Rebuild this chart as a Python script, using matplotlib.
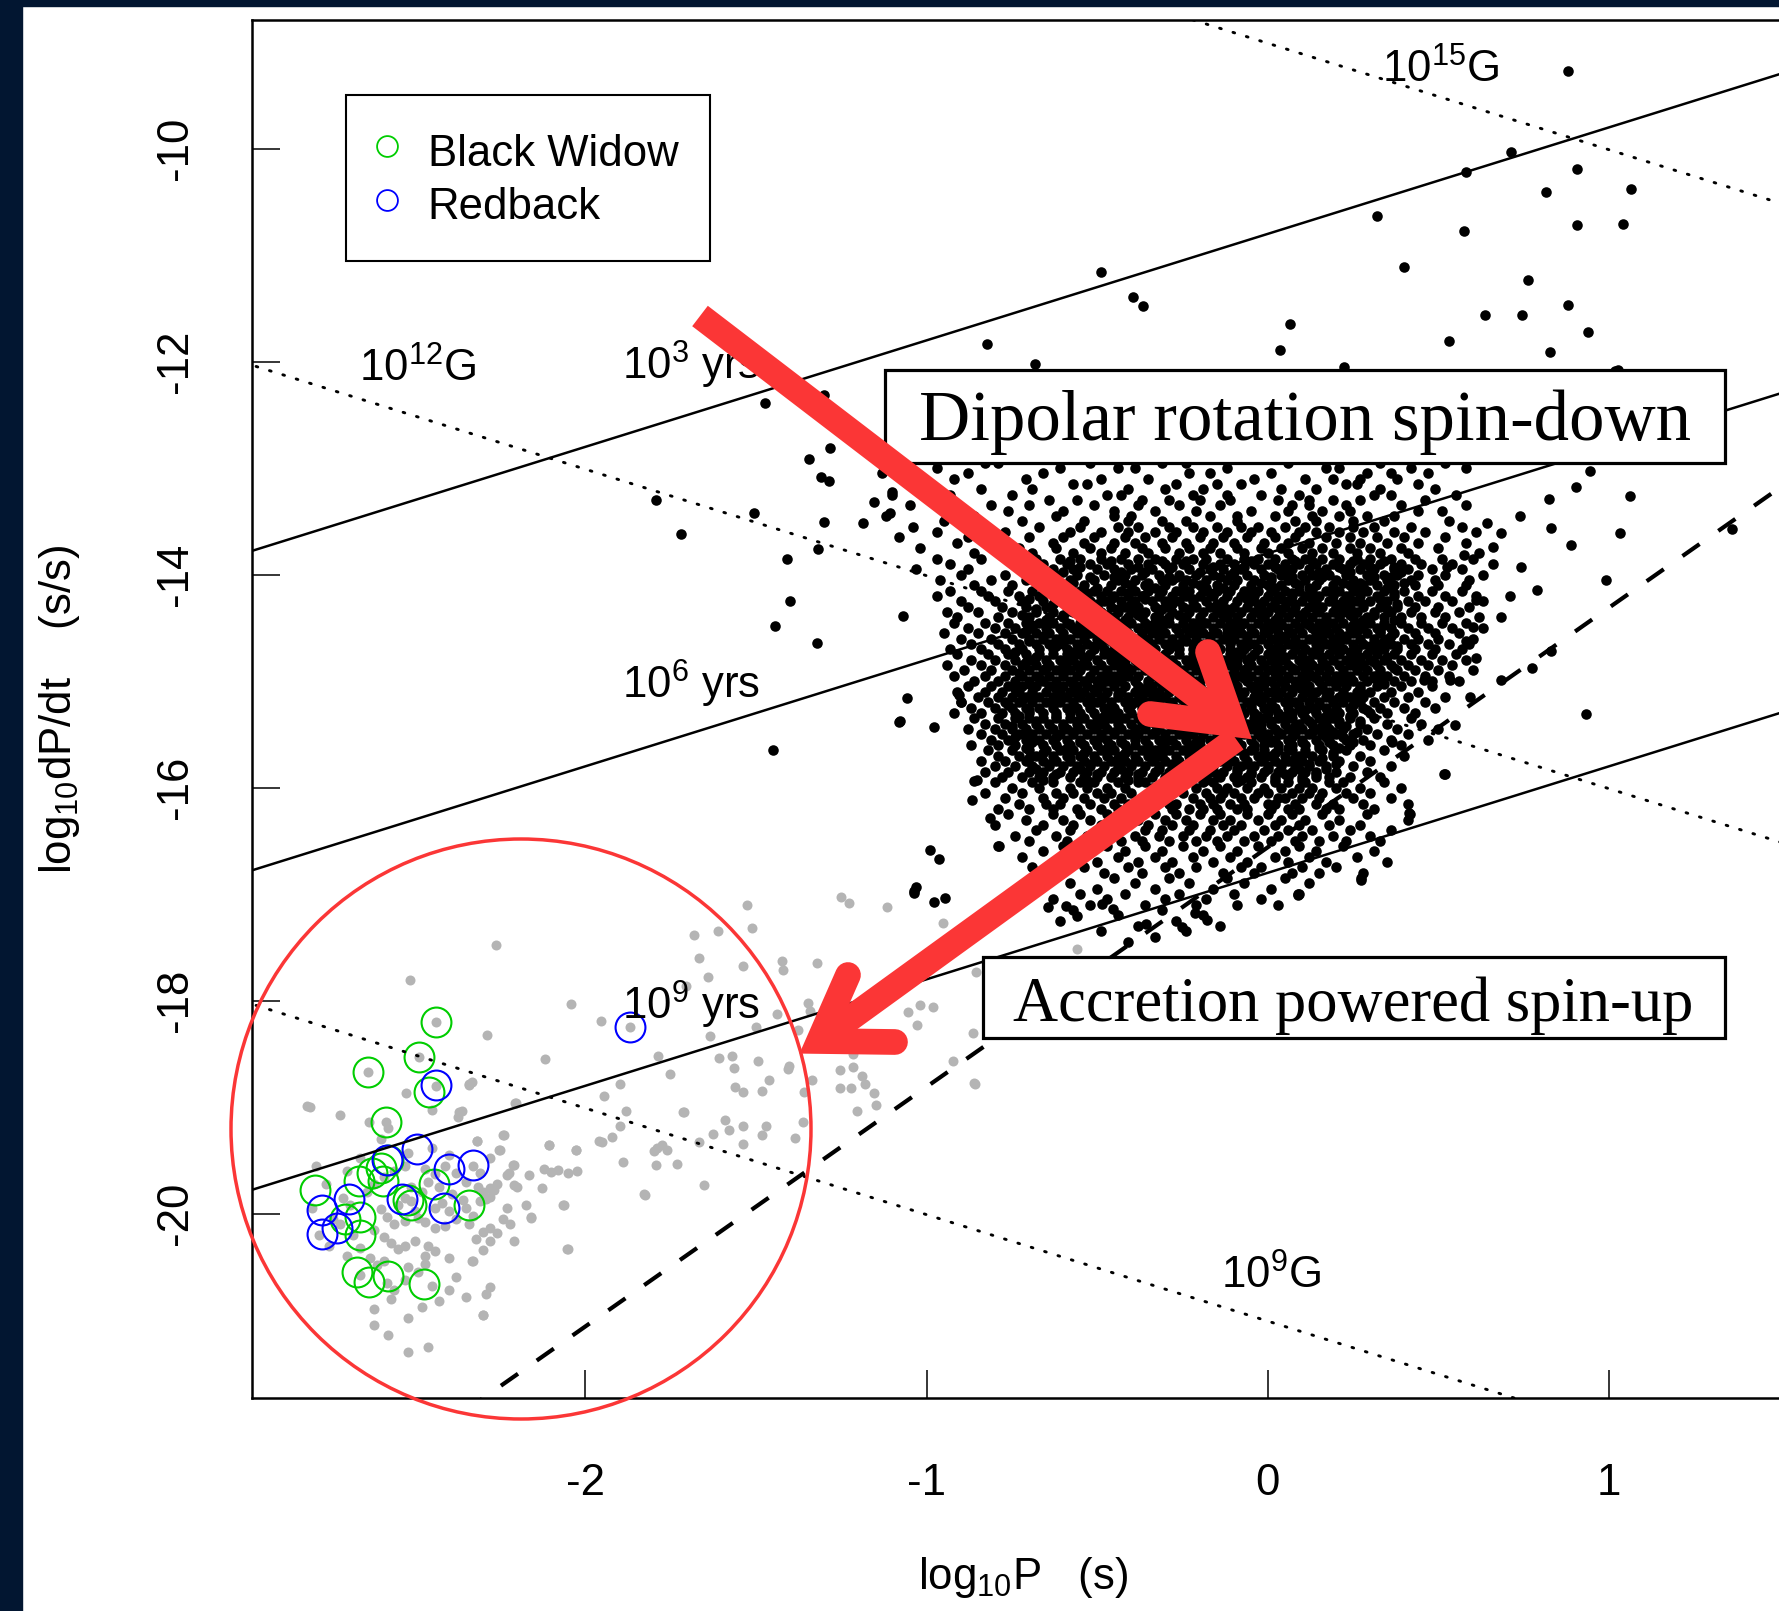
import numpy as np
import matplotlib
matplotlib.use("Agg")
import matplotlib.pyplot as plt
from matplotlib.lines import Line2D
from matplotlib.patches import Rectangle, Ellipse

plt.rcParams['font.family'] = ['Liberation Sans', 'DejaVu Sans']
plt.rcParams['mathtext.fontset'] = 'custom'
plt.rcParams['mathtext.rm'] = 'Liberation Sans'
plt.rcParams['mathtext.it'] = 'Liberation Sans:italic'
plt.rcParams['mathtext.bf'] = 'Liberation Sans:bold'
plt.rcParams['axes.unicode_minus'] = False

# ------------------------------------------------------------------ data
# sparse normal pulsars (log10 P, log10 Pdot)
normal_sparse = [
    (0.879, -9.27), (0.712, -10.03), (0.582, -10.22), (0.905, -10.19), (0.815, -10.41), (1.065, -10.38),
    (0.319, -10.63), (0.576, -10.77), (0.905, -10.72), (1.042, -10.71), (0.400, -11.11), (0.762, -11.23),
    (-0.489, -11.16), (-0.396, -11.39), (-0.365, -11.48), (0.635, -11.56), (0.744, -11.56), (0.881, -11.47),
    (0.066, -11.65), (0.530, -11.81), (0.937, -11.72), (0.828, -11.91), (-0.822, -11.83), (0.037, -11.89),
    (-0.681, -12.02), (0.222, -12.05), (1.025, -12.08), (1.018, -12.09),
    (-1.475, -12.39), (-1.300, -12.31), (-1.346, -12.91), (-1.282, -12.81), (-1.310, -13.08), (-1.285, -13.12),
    (-1.300, -13.51), (-1.317, -13.76), (-1.410, -13.85), (-1.400, -14.25), (-1.443, -14.48), (-1.320, -14.64),
    (-1.792, -13.30), (-1.505, -13.42), (-1.451, -15.65), (-1.078, -15.37), (-1.187, -13.52), (-1.154, -13.32),
    (-1.108, -13.42), (-1.102, -13.22), (-1.069, -14.39), (-1.056, -15.16), (-1.082, -15.38), (-0.977, -15.43),
    (-0.899, -15.20), (-0.905, -15.13), (-0.853, -15.93), (-0.866, -16.12), (-0.990, -16.59), (-0.964, -16.67),
    (-1.036, -16.97), (-0.977, -17.07), (-0.945, -17.04), (-1.037, -16.99), (-0.862, -15.94), (-1.032, -16.93),
    (-0.788, -16.55), (-0.814, -16.29), (-0.644, -17.12), (-0.591, -17.11), (-0.559, -17.21), (-0.487, -17.09),
    (-0.454, -17.14), (-0.356, -17.28), (-0.251, -17.31), (-0.179, -17.24), (-0.212, -17.18), (0.089, -17.01),
    (0.272, -16.87), (0.416, -16.25), (0.520, -15.87), (0.534, -14.99), (0.600, -14.49), (1.361, -13.57),
    (0.902, -13.18), (1.062, -13.26), (0.825, -13.29), (0.739, -13.45), (0.642, -13.52), (0.888, -13.72),
    (0.829, -13.56), (0.682, -13.61), (0.576, -13.82), (0.742, -13.93), (0.789, -14.14), (0.609, -14.24),
    (0.682, -14.40), (0.526, -13.93), (0.829, -14.72), (0.609, -14.78), (0.459, -14.99), (0.932, -15.31),
    (0.516, -15.87), (0.413, -16.24), (0.549, -15.41), (0.363, -15.57), (0.273, -16.85), (0.087, -17.00),
    (0.775, -14.88), (0.682, -14.99), (0.592, -15.15), (0.945, -13.03), (1.032, -13.61), (0.990, -14.05),
    (-1.721, -13.62), (-1.230, -12.60), (0.71, -14.20), (0.66, -13.74), (0.58, -14.62), (0.50, -15.45),
]

# dense normal pulsar cloud, read row by row: (log10 Pdot, [log10 P ...])
core_upper = [
    (-12.95, [-1.08, -0.83, -0.79, -0.52, -0.31, -0.24, 0.06, 0.33, 0.52]),
    (-13.00, [-0.97, -0.61, -0.44, -0.39, -0.12, 0.17, 0.21, 0.42, 0.58]),
    (-13.05, [-1.13, -0.88, -0.66, -0.23, -0.17, 0.01, 0.29, 0.47, 0.36]),
    (-13.10, [-0.92, -0.71, -0.49, -0.35, -0.04, 0.11, 0.38, 0.27, 0.19]),
    (-13.15, [-1.01, -0.57, -0.53, -0.27, -0.08, 0.23, 0.26, 0.44, -0.15]),
    (-13.20, [-0.84, -0.69, -0.41, -0.19, 0.04, 0.14, 0.33, 0.49, -0.30]),
    (-13.25, [-1.10, -0.93, -0.75, -0.47, -0.43, -0.22, -0.02, 0.09, 0.31, 0.36, 0.55, -0.12]),
    (-13.30, [-0.99, -0.64, -0.56, -0.37, -0.29, -0.11, 0.03, 0.19, 0.27, 0.46, -0.20, 0.12]),
    (-13.35, [-1.05, -0.81, -0.70, -0.51, -0.26, -0.14, 0.07, 0.12, 0.39, 0.58, 0.23, -0.38]),
    (-13.40, [-0.89, -0.76, -0.60, -0.33, -0.21, -0.05, 0.16, 0.24, 0.44, 0.51, 0.06, -0.45]),
    (-13.45, [-1.12, -0.86, -0.62, -0.45, -0.40, -0.17, 0.02, 0.21, 0.29, 0.37, -0.09, 0.13]),
    (-13.50, [-0.95, -0.72, -0.54, -0.31, -0.24, -0.09, 0.08, 0.14, 0.34, 0.53, -0.41, 0.25]),
    (-13.55, [-1.04, -0.84, -0.67, -0.55, -0.44, -0.38, -0.29, -0.22, -0.15, -0.08, -0.03, 0.05, 0.11, 0.18, 0.25, 0.31, 0.42, 0.57]),
    (-13.60, [-0.97, -0.77, -0.58, -0.49, -0.41, -0.33, -0.27, -0.19, -0.12, -0.05, 0.01, 0.09, 0.14, 0.21, 0.28, 0.37, 0.46, 0.61]),
    (-13.65, [-1.08, -0.88, -0.70, -0.60, -0.51, -0.42, -0.36, -0.28, -0.20, -0.13, -0.06, 0.02, 0.08, 0.17, 0.24, 0.32, 0.40, 0.52]),
    (-13.70, [-0.91, -0.80, -0.63, -0.54, -0.45, -0.39, -0.31, -0.24, -0.16, -0.10, -0.01, 0.06, 0.12, 0.20, 0.27, 0.35, 0.44, 0.58]),
    (-13.75, [-1.02, -0.73, -0.62, -0.52, -0.46, -0.37, -0.30, -0.23, -0.17, -0.09, -0.02, 0.04, 0.10, 0.16, 0.24, 0.30, 0.39, 0.50]),
    (-13.80, [-0.86, -0.69, -0.57, -0.49, -0.42, -0.35, -0.26, -0.19, -0.14, -0.07, 0.00, 0.06, 0.13, 0.19, 0.26, 0.33, 0.41, 0.62]),
    (-13.85, [-0.97, -0.84, -0.68, -0.61, -0.55, -0.49, -0.43, -0.38, -0.33, -0.27, -0.22, -0.18, -0.12, -0.07, -0.03, 0.02, 0.07, 0.11, 0.16, 0.21, 0.26, 0.30, 0.36, 0.43, 0.51, 0.60]),
    (-13.90, [-0.93, -0.74, -0.66, -0.59, -0.52, -0.47, -0.41, -0.35, -0.30, -0.25, -0.19, -0.14, -0.10, -0.04, 0.00, 0.05, 0.09, 0.14, 0.19, 0.24, 0.28, 0.33, 0.39, 0.45, 0.54, 0.66]),
    (-13.95, [-1.03, -0.88, -0.72, -0.63, -0.57, -0.50, -0.45, -0.40, -0.34, -0.29, -0.23, -0.17, -0.13, -0.08, -0.02, 0.03, 0.07, 0.12, 0.17, 0.22, 0.27, 0.31, 0.37, 0.41, 0.48, 0.57]),
    (-14.00, [-0.90, -0.77, -0.70, -0.62, -0.56, -0.48, -0.42, -0.37, -0.32, -0.26, -0.21, -0.16, -0.11, -0.06, -0.01, 0.04, 0.10, 0.13, 0.18, 0.23, 0.29, 0.34, 0.38, 0.44, 0.52, 0.63]),
    (-14.05, [-0.96, -0.81, -0.71, -0.64, -0.58, -0.51, -0.44, -0.39, -0.31, -0.28, -0.24, -0.18, -0.12, -0.09, -0.04, 0.01, 0.06, 0.11, 0.15, 0.20, 0.25, 0.30, 0.35, 0.42, 0.49, 0.59]),
    (-14.10, [-0.86, -0.75, -0.67, -0.60, -0.54, -0.46, -0.40, -0.36, -0.30, -0.25, -0.20, -0.15, -0.10, -0.05, 0.00, 0.04, 0.09, 0.14, 0.19, 0.24, 0.28, 0.32, 0.37, 0.43, 0.50, 0.58]),
]
core_middle = [
    (-14.15, [-0.93, -0.84, -0.76, -0.69, -0.64, -0.60, -0.55, -0.51, -0.47, -0.43, -0.39, -0.35, -0.31, -0.27, -0.23, -0.19, -0.15, -0.11, -0.07, -0.03, 0.01, 0.05, 0.09, 0.13, 0.17, 0.21, 0.25, 0.29, 0.34, 0.40, 0.48, 0.57]),
    (-14.20, [-0.97, -0.82, -0.73, -0.67, -0.62, -0.58, -0.53, -0.49, -0.45, -0.41, -0.37, -0.32, -0.28, -0.24, -0.20, -0.16, -0.12, -0.08, -0.04, 0.00, 0.03, 0.07, 0.11, 0.15, 0.19, 0.23, 0.27, 0.32, 0.37, 0.44, 0.52, 0.61]),
    (-14.25, [-0.90, -0.80, -0.72, -0.66, -0.61, -0.56, -0.52, -0.48, -0.43, -0.39, -0.34, -0.30, -0.26, -0.22, -0.18, -0.13, -0.09, -0.05, -0.01, 0.02, 0.06, 0.10, 0.14, 0.18, 0.22, 0.26, 0.30, 0.35, 0.41, 0.46, 0.54, 0.63]),
    (-14.30, [-0.88, -0.78, -0.71, -0.65, -0.59, -0.55, -0.50, -0.46, -0.42, -0.38, -0.33, -0.29, -0.25, -0.21, -0.17, -0.14, -0.10, -0.06, -0.02, 0.01, 0.05, 0.08, 0.12, 0.16, 0.20, 0.24, 0.28, 0.33, 0.38, 0.43, 0.50, 0.59]),
    (-14.35, [-0.94, -0.85, -0.75, -0.68, -0.63, -0.57, -0.53, -0.49, -0.44, -0.40, -0.36, -0.32, -0.28, -0.23, -0.19, -0.15, -0.11, -0.08, -0.04, 0.00, 0.04, 0.07, 0.11, 0.15, 0.19, 0.22, 0.26, 0.31, 0.36, 0.42, 0.49, 0.56]),
    (-14.40, [-0.91, -0.79, -0.70, -0.64, -0.60, -0.54, -0.50, -0.45, -0.41, -0.37, -0.33, -0.29, -0.24, -0.20, -0.16, -0.12, -0.09, -0.05, -0.01, 0.03, 0.06, 0.10, 0.13, 0.17, 0.21, 0.25, 0.29, 0.34, 0.39, 0.45, 0.52, 0.62]),
    (-14.45, [-0.92, -0.83, -0.76, -0.71, -0.67, -0.63, -0.59, -0.55, -0.51, -0.48, -0.44, -0.40, -0.36, -0.33, -0.29, -0.25, -0.22, -0.18, -0.14, -0.11, -0.07, -0.03, 0.00, 0.04, 0.08, 0.11, 0.15, 0.19, 0.22, 0.26, 0.30, 0.34, 0.39, 0.45, 0.51, 0.58]),
    (-14.50, [-0.88, -0.80, -0.74, -0.69, -0.65, -0.61, -0.57, -0.53, -0.50, -0.46, -0.42, -0.38, -0.35, -0.31, -0.27, -0.24, -0.20, -0.16, -0.12, -0.09, -0.05, -0.01, 0.02, 0.06, 0.09, 0.13, 0.17, 0.20, 0.24, 0.28, 0.32, 0.36, 0.41, 0.47, 0.54, 0.63]),
    (-14.55, [-0.95, -0.85, -0.77, -0.72, -0.68, -0.64, -0.60, -0.56, -0.52, -0.49, -0.45, -0.41, -0.37, -0.34, -0.30, -0.26, -0.23, -0.19, -0.15, -0.12, -0.08, -0.04, -0.01, 0.03, 0.07, 0.10, 0.14, 0.18, 0.21, 0.25, 0.29, 0.33, 0.37, 0.43, 0.49, 0.56]),
    (-14.60, [-0.90, -0.81, -0.75, -0.70, -0.66, -0.62, -0.58, -0.54, -0.50, -0.47, -0.43, -0.39, -0.36, -0.32, -0.28, -0.25, -0.21, -0.17, -0.13, -0.10, -0.06, -0.02, 0.01, 0.05, 0.08, 0.12, 0.16, 0.19, 0.23, 0.27, 0.31, 0.35, 0.40, 0.44, 0.50, 0.60]),
    (-14.65, [-0.87, -0.79, -0.73, -0.68, -0.64, -0.60, -0.56, -0.53, -0.49, -0.45, -0.41, -0.37, -0.34, -0.30, -0.26, -0.22, -0.19, -0.15, -0.11, -0.08, -0.04, 0.00, 0.03, 0.06, 0.10, 0.14, 0.17, 0.21, 0.25, 0.28, 0.32, 0.36, 0.42, 0.47, 0.53, 0.59]),
    (-14.70, [-0.93, -0.84, -0.77, -0.72, -0.67, -0.63, -0.59, -0.55, -0.51, -0.48, -0.44, -0.40, -0.37, -0.33, -0.29, -0.26, -0.22, -0.18, -0.14, -0.11, -0.07, -0.03, 0.01, 0.04, 0.08, 0.11, 0.15, 0.19, 0.22, 0.26, 0.30, 0.34, 0.38, 0.43, 0.49, 0.57]),
    (-14.75, [-0.91, -0.82, -0.76, -0.71, -0.67, -0.63, -0.59, -0.55, -0.52, -0.48, -0.44, -0.41, -0.37, -0.33, -0.30, -0.26, -0.22, -0.19, -0.15, -0.11, -0.08, -0.04, 0.00, 0.03, 0.07, 0.10, 0.14, 0.18, 0.21, 0.25, 0.29, 0.32, 0.37, 0.42, 0.48, 0.55]),
    (-14.80, [-0.87, -0.80, -0.74, -0.69, -0.65, -0.61, -0.57, -0.54, -0.50, -0.46, -0.42, -0.39, -0.35, -0.31, -0.28, -0.24, -0.20, -0.17, -0.13, -0.09, -0.06, -0.02, 0.01, 0.05, 0.09, 0.12, 0.16, 0.19, 0.23, 0.27, 0.30, 0.34, 0.39, 0.45, 0.51, 0.58]),
    (-14.85, [-0.94, -0.84, -0.77, -0.72, -0.68, -0.64, -0.60, -0.56, -0.53, -0.49, -0.45, -0.42, -0.38, -0.34, -0.31, -0.27, -0.23, -0.20, -0.16, -0.12, -0.09, -0.05, -0.01, 0.02, 0.06, 0.10, 0.13, 0.17, 0.21, 0.24, 0.28, 0.32, 0.36, 0.41, 0.47, 0.54]),
    (-14.90, [-0.89, -0.81, -0.75, -0.70, -0.66, -0.62, -0.58, -0.55, -0.51, -0.47, -0.43, -0.40, -0.36, -0.32, -0.29, -0.25, -0.21, -0.18, -0.14, -0.10, -0.07, -0.03, 0.00, 0.04, 0.08, 0.11, 0.15, 0.18, 0.22, 0.26, 0.29, 0.33, 0.38, 0.43, 0.50, 0.60]),
    (-14.95, [-0.92, -0.83, -0.77, -0.72, -0.68, -0.64, -0.60, -0.56, -0.52, -0.49, -0.45, -0.41, -0.38, -0.34, -0.30, -0.27, -0.23, -0.19, -0.16, -0.12, -0.08, -0.05, -0.01, 0.03, 0.06, 0.10, 0.13, 0.17, 0.20, 0.24, 0.28, 0.31, 0.35, 0.40, 0.46, 0.53]),
    (-15.00, [-0.86, -0.79, -0.74, -0.70, -0.66, -0.62, -0.58, -0.54, -0.50, -0.47, -0.43, -0.39, -0.35, -0.32, -0.28, -0.25, -0.21, -0.17, -0.14, -0.10, -0.06, -0.03, 0.01, 0.04, 0.08, 0.11, 0.15, 0.18, 0.22, 0.25, 0.29, 0.33, 0.37, 0.42, 0.48, 0.56]),
]
core_lower = [
    (-15.05, [-0.88, -0.81, -0.76, -0.72, -0.68, -0.64, -0.60, -0.56, -0.53, -0.49, -0.45, -0.42, -0.38, -0.34, -0.31, -0.27, -0.24, -0.20, -0.16, -0.13, -0.09, -0.05, -0.02, 0.02, 0.05, 0.09, 0.12, 0.16, 0.20, 0.23, 0.27, 0.32, 0.39, 0.48]),
    (-15.10, [-0.91, -0.83, -0.78, -0.73, -0.69, -0.65, -0.61, -0.58, -0.54, -0.50, -0.47, -0.43, -0.39, -0.36, -0.32, -0.29, -0.25, -0.21, -0.18, -0.14, -0.10, -0.07, -0.03, 0.00, 0.04, 0.07, 0.11, 0.14, 0.18, 0.22, 0.26, 0.30, 0.36, 0.44]),
    (-15.15, [-0.85, -0.79, -0.75, -0.71, -0.67, -0.63, -0.59, -0.55, -0.52, -0.48, -0.44, -0.41, -0.37, -0.33, -0.30, -0.26, -0.22, -0.19, -0.15, -0.12, -0.08, -0.04, -0.01, 0.03, 0.06, 0.10, 0.13, 0.17, 0.21, 0.24, 0.28, 0.34, 0.41, 0.52]),
    (-15.20, [-0.90, -0.82, -0.77, -0.73, -0.69, -0.65, -0.61, -0.57, -0.53, -0.50, -0.46, -0.42, -0.39, -0.35, -0.32, -0.28, -0.24, -0.21, -0.17, -0.13, -0.10, -0.06, -0.02, 0.01, 0.05, 0.08, 0.12, 0.15, 0.19, 0.22, 0.27, 0.31, 0.37, 0.46]),
    (-15.25, [-0.87, -0.80, -0.75, -0.71, -0.67, -0.63, -0.59, -0.56, -0.52, -0.48, -0.45, -0.41, -0.37, -0.34, -0.30, -0.27, -0.23, -0.19, -0.16, -0.12, -0.08, -0.05, -0.01, 0.02, 0.06, 0.09, 0.13, 0.17, 0.20, 0.24, 0.28, 0.33, 0.40, 0.49]),
    (-15.30, [-0.92, -0.84, -0.78, -0.74, -0.70, -0.66, -0.62, -0.58, -0.55, -0.51, -0.47, -0.44, -0.40, -0.36, -0.33, -0.29, -0.26, -0.22, -0.18, -0.15, -0.11, -0.07, -0.04, 0.00, 0.03, 0.07, 0.10, 0.14, 0.18, 0.21, 0.25, 0.30, 0.35, 0.43]),
    (-15.35, [-0.86, -0.79, -0.74, -0.70, -0.66, -0.62, -0.58, -0.54, -0.50, -0.46, -0.42, -0.38, -0.35, -0.31, -0.27, -0.23, -0.19, -0.16, -0.12, -0.08, -0.04, -0.01, 0.03, 0.07, 0.11, 0.15, 0.19, 0.24, 0.31, 0.42]),
    (-15.40, [-0.83, -0.77, -0.72, -0.68, -0.64, -0.60, -0.56, -0.52, -0.48, -0.44, -0.40, -0.37, -0.33, -0.29, -0.25, -0.21, -0.18, -0.14, -0.10, -0.06, -0.02, 0.01, 0.05, 0.09, 0.13, 0.17, 0.21, 0.27, 0.35, 0.45]),
    (-15.45, [-0.88, -0.80, -0.75, -0.71, -0.67, -0.63, -0.59, -0.55, -0.51, -0.47, -0.43, -0.39, -0.36, -0.32, -0.28, -0.24, -0.20, -0.17, -0.13, -0.09, -0.05, -0.02, 0.02, 0.06, 0.10, 0.14, 0.18, 0.22, 0.29, 0.38]),
    (-15.50, [-0.84, -0.78, -0.73, -0.69, -0.65, -0.61, -0.57, -0.53, -0.49, -0.45, -0.41, -0.38, -0.34, -0.30, -0.26, -0.22, -0.19, -0.15, -0.11, -0.07, -0.03, 0.00, 0.04, 0.08, 0.12, 0.16, 0.20, 0.25, 0.32, 0.41]),
    (-15.55, [-0.81, -0.76, -0.71, -0.67, -0.63, -0.59, -0.55, -0.51, -0.47, -0.43, -0.39, -0.36, -0.32, -0.28, -0.24, -0.20, -0.17, -0.13, -0.09, -0.05, -0.01, 0.02, 0.06, 0.10, 0.14, 0.18, 0.23, 0.28, 0.36, 0.47]),
    (-15.60, [-0.87, -0.79, -0.74, -0.70, -0.66, -0.62, -0.58, -0.54, -0.50, -0.46, -0.42, -0.39, -0.35, -0.31, -0.27, -0.23, -0.20, -0.16, -0.12, -0.08, -0.04, -0.01, 0.03, 0.07, 0.11, 0.15, 0.19, 0.24, 0.30, 0.39]),
    (-15.65, [-0.82, -0.75, -0.70, -0.65, -0.61, -0.57, -0.53, -0.49, -0.45, -0.41, -0.37, -0.33, -0.29, -0.25, -0.21, -0.17, -0.13, -0.09, -0.05, -0.01, 0.03, 0.07, 0.11, 0.16, 0.23, 0.34]),
    (-15.70, [-0.79, -0.73, -0.68, -0.63, -0.59, -0.55, -0.51, -0.47, -0.43, -0.39, -0.35, -0.31, -0.27, -0.23, -0.19, -0.15, -0.11, -0.07, -0.03, 0.01, 0.05, 0.09, 0.13, 0.19, 0.27, 0.40]),
    (-15.75, [-0.84, -0.77, -0.71, -0.66, -0.62, -0.58, -0.54, -0.50, -0.46, -0.42, -0.38, -0.34, -0.30, -0.26, -0.22, -0.18, -0.14, -0.10, -0.06, -0.02, 0.02, 0.06, 0.10, 0.15, 0.21, 0.30]),
    (-15.80, [-0.80, -0.74, -0.69, -0.64, -0.60, -0.56, -0.52, -0.48, -0.44, -0.40, -0.36, -0.32, -0.28, -0.24, -0.20, -0.16, -0.12, -0.08, -0.04, 0.00, 0.04, 0.08, 0.12, 0.17, 0.25, 0.36]),
    (-15.85, [-0.83, -0.76, -0.70, -0.66, -0.61, -0.57, -0.53, -0.49, -0.45, -0.41, -0.37, -0.33, -0.29, -0.25, -0.21, -0.17, -0.13, -0.09, -0.05, -0.01, 0.03, 0.07, 0.11, 0.14, 0.20, 0.29]),
    (-15.90, [-0.78, -0.72, -0.67, -0.63, -0.58, -0.54, -0.50, -0.46, -0.42, -0.38, -0.34, -0.30, -0.26, -0.22, -0.18, -0.14, -0.10, -0.06, -0.02, 0.02, 0.06, 0.10, 0.14, 0.18, 0.24, 0.33]),
    (-15.95, [-0.80, -0.69, -0.63, -0.55, -0.51, -0.44, -0.38, -0.36, -0.29, -0.24, -0.19, -0.16, -0.09, -0.05, 0.02, 0.06, 0.11, 0.18, 0.22, 0.34]),
    (-16.00, [-0.75, -0.67, -0.58, -0.53, -0.47, -0.42, -0.34, -0.31, -0.26, -0.21, -0.15, -0.12, -0.06, -0.01, 0.04, 0.09, 0.13, 0.20, 0.27, 0.39]),
    (-16.05, [-0.83, -0.72, -0.62, -0.57, -0.50, -0.46, -0.40, -0.33, -0.28, -0.25, -0.18, -0.13, -0.10, -0.03, 0.00, 0.07, 0.12, 0.16, 0.23, 0.30]),
    (-16.10, [-0.77, -0.66, -0.60, -0.54, -0.48, -0.43, -0.37, -0.32, -0.30, -0.22, -0.17, -0.14, -0.08, -0.04, 0.03, 0.05, 0.10, 0.15, 0.25, 0.36]),
    (-16.15, [-0.73, -0.65, -0.61, -0.52, -0.45, -0.41, -0.35, -0.29, -0.27, -0.20, -0.16, -0.11, -0.07, 0.00, 0.02, 0.08, 0.14, 0.19, 0.28, 0.41]),
    (-16.20, [-0.79, -0.70, -0.63, -0.56, -0.49, -0.44, -0.39, -0.34, -0.28, -0.23, -0.19, -0.15, -0.09, -0.06, 0.01, 0.06, 0.09, 0.17, 0.21, 0.31]),
    (-16.25, [-0.76, -0.63, -0.55, -0.47, -0.41, -0.33, -0.27, -0.20, -0.14, -0.06, 0.00, 0.07, 0.16, 0.29]),
    (-16.30, [-0.71, -0.60, -0.52, -0.44, -0.38, -0.30, -0.24, -0.16, -0.11, -0.03, 0.04, 0.11, 0.21, 0.41]),
    (-16.35, [-0.80, -0.66, -0.57, -0.49, -0.42, -0.35, -0.28, -0.22, -0.13, -0.08, 0.02, 0.09, 0.18, 0.27]),
    (-16.40, [-0.68, -0.58, -0.50, -0.45, -0.36, -0.31, -0.23, -0.17, -0.10, -0.01, 0.06, 0.13, 0.24, 0.36]),
    (-16.45, [-0.74, -0.62, -0.53, -0.46, -0.39, -0.32, -0.25, -0.18, -0.12, -0.04, 0.03, 0.10, 0.19, 0.30]),
    (-16.50, [-0.70, -0.59, -0.51, -0.43, -0.37, -0.29, -0.21, -0.15, -0.07, 0.01, 0.08, 0.15, 0.23, 0.33]),
    (-16.55, [-0.79, -0.60, -0.47, -0.36, -0.25, -0.14, -0.03, 0.09, 0.22]),
    (-16.60, [-0.66, -0.53, -0.42, -0.31, -0.19, -0.09, 0.05, 0.14, 0.31]),
    (-16.65, [-0.72, -0.56, -0.44, -0.33, -0.22, -0.11, 0.02, 0.12, 0.26]),
    (-16.70, [-0.63, -0.50, -0.38, -0.28, -0.16, -0.06, 0.06, 0.17, 0.35]),
    (-16.75, [-0.69, -0.54, -0.41, -0.30, -0.21, -0.08, -0.02, 0.10, 0.20]),
    (-16.80, [-0.61, -0.48, -0.37, -0.26, -0.13, -0.04, 0.07, 0.15, 0.28]),
    (-16.85, [-0.66, -0.45, -0.29, -0.12, 0.05]),
    (-16.90, [-0.58, -0.39, -0.23, -0.07, 0.12]),
    (-16.95, [-0.71, -0.50, -0.33, -0.16, 0.01]),
    (-17.00, [-0.55, -0.42, -0.26, -0.10, 0.09]),
    (-17.05, [-0.63, -0.47, -0.30, -0.18, -0.02]),
    (-17.10, [-0.52, -0.36, -0.21, -0.09, 0.03]),
    (-17.15, [-0.57, -0.31]),
    (-17.20, [-0.44, -0.19]),
    (-17.25, [-0.61, -0.27]),
    (-17.30, [-0.38, -0.14]),
    (-17.35, [-0.49, -0.24]),
    (-17.40, [-0.33]),
    (-17.45, [-0.41]),
]
# extra pulsars in the densest part of the cloud, between the rows above
core_fill = [
    (-13.875, [-0.58, -0.46, -0.31, -0.24, -0.05, 0.08, 0.13, 0.25, 0.34]),
    (-13.925, [-0.55, -0.38, -0.28, -0.16, -0.07, 0.02, 0.21, 0.30, 0.37]),
    (-13.975, [-0.60, -0.43, -0.36, -0.20, -0.10, 0.05, 0.15, 0.24, 0.39]),
    (-14.025, [-0.52, -0.45, -0.29, -0.14, 0.01, 0.07, 0.16, 0.31, 0.36]),
    (-14.075, [-0.57, -0.42, -0.35, -0.22, -0.02, 0.08, 0.22, 0.27, 0.40]),
    (-14.125, [-0.62, -0.50, -0.33, -0.18, -0.13, 0.02, 0.12, 0.26, 0.35]),
    (-14.175, [-0.66, -0.53, -0.41, -0.25, -0.17, -0.05, 0.07, 0.19, 0.27, 0.37]),
    (-14.225, [-0.70, -0.56, -0.46, -0.36, -0.22, -0.06, 0.04, 0.13, 0.24, 0.33]),
    (-14.275, [-0.63, -0.50, -0.40, -0.28, -0.15, -0.03, 0.08, 0.20, 0.28, 0.38]),
    (-14.325, [-0.68, -0.57, -0.44, -0.31, -0.23, -0.12, 0.03, 0.14, 0.22, 0.35]),
    (-14.375, [-0.72, -0.60, -0.47, -0.38, -0.26, -0.13, -0.02, 0.09, 0.24, 0.31]),
    (-14.425, [-0.65, -0.53, -0.42, -0.31, -0.20, -0.09, 0.02, 0.17, 0.28, 0.37]),
    (-14.475, [-0.69, -0.58, -0.43, -0.34, -0.22, -0.08, 0.04, 0.12, 0.25, 0.34]),
    (-14.525, [-0.71, -0.55, -0.47, -0.33, -0.21, -0.10, 0.00, 0.15, 0.26, 0.33]),
    (-14.575, [-0.66, -0.54, -0.43, -0.32, -0.17, -0.06, 0.05, 0.16, 0.23, 0.36]),
    (-14.625, [-0.70, -0.60, -0.46, -0.35, -0.24, -0.11, 0.03, 0.14, 0.21, 0.34]),
    (-14.675, [-0.62, -0.51, -0.40, -0.28, -0.17, -0.06, 0.08, 0.19, 0.30, 0.38]),
    (-14.725, [-0.74, -0.57, -0.46, -0.35, -0.20, -0.09, 0.02, 0.13, 0.24, 0.32]),
    (-14.775, [-0.68, -0.53, -0.39, -0.31, -0.18, -0.05, 0.05, 0.16, 0.27, 0.35]),
    (-14.825, [-0.71, -0.59, -0.44, -0.33, -0.22, -0.11, 0.03, 0.11, 0.25, 0.31]),
    (-14.875, [-0.65, -0.55, -0.41, -0.29, -0.18, -0.06, 0.07, 0.15, 0.26, 0.37]),
    (-14.925, [-0.73, -0.60, -0.47, -0.34, -0.25, -0.10, 0.02, 0.12, 0.22, 0.33]),
    (-14.975, [-0.67, -0.52, -0.43, -0.30, -0.19, -0.07, 0.06, 0.14, 0.24, 0.31]),
    (-15.025, [-0.70, -0.57, -0.45, -0.35, -0.23, -0.12, -0.01, 0.10, 0.20, 0.34]),
    (-15.075, [-0.74, -0.62, -0.51, -0.37, -0.26, -0.15, -0.04, 0.07, 0.16, 0.27]),
    (-15.125, [-0.69, -0.56, -0.44, -0.34, -0.20, -0.09, 0.02, 0.13, 0.22, 0.28]),
    (-15.175, [-0.72, -0.61, -0.49, -0.38, -0.25, -0.14, -0.03, 0.06, 0.19, 0.26]),
    (-15.225, [-0.76, -0.63, -0.52, -0.40, -0.29, -0.17, -0.05, 0.09, 0.15, 0.25]),
    (-15.275, [-0.70, -0.58, -0.46, -0.33, -0.21, -0.12, 0.00, 0.11, 0.20, 0.29]),
    (-15.325, [-0.73, -0.62, -0.48, -0.37, -0.25, -0.14, -0.03, 0.05, 0.17, 0.24]),
    (-15.375, [-0.68, -0.56, -0.44, -0.31, -0.22, -0.09, 0.01, 0.12, 0.21, 0.27]),
    (-15.425, [-0.75, -0.60, -0.50, -0.36, -0.27, -0.15, -0.04, 0.08, 0.16, 0.23]),
    (-15.475, [-0.71, -0.57, -0.45, -0.33, -0.19, -0.08, 0.03, 0.13, 0.19, 0.26]),
    (-15.525, [-0.74, -0.62, -0.49, -0.39, -0.24, -0.13, -0.02, 0.07, 0.17, 0.22]),
    (-15.575, [-0.69, -0.55, -0.43, -0.30, -0.21, -0.10, 0.01, 0.10, 0.18, 0.25]),
    (-15.625, [-0.71, -0.59, -0.47, -0.35, -0.23, -0.12, -0.04, 0.06, 0.15, 0.21]),
    (-15.675, [-0.66, -0.54, -0.42, -0.31, -0.18, -0.07, 0.02, 0.11, 0.19]),
    (-15.725, [-0.70, -0.58, -0.44, -0.33, -0.22, -0.11, -0.01, 0.08, 0.16]),
    (-15.775, [-0.64, -0.52, -0.40, -0.28, -0.19, -0.06, 0.04, 0.12, 0.20]),
    (-15.825, [-0.68, -0.55, -0.43, -0.32, -0.20, -0.09, 0.00, 0.09, 0.17]),
    (-15.875, [-0.62, -0.50, -0.38, -0.27, -0.15, -0.05, 0.05, 0.14]),
    (-15.925, [-0.66, -0.53, -0.41, -0.29, -0.18, -0.08, 0.02, 0.10]),
]

# millisecond (recycled) pulsars, grey
msp_points = [
    (-2.513, -17.81), (-2.262, -17.48), (-2.042, -18.03), (-2.288, -18.32), (-2.118, -18.55), (-2.437, -18.20),
    (-2.489, -18.53), (-2.637, -18.67), (-2.526, -18.87), (-2.342, -18.79), (-2.332, -18.76), (-2.437, -18.80),
    (-2.205, -18.96), (-2.806, -19.00), (-2.720, -19.07), (-2.635, -19.14), (-2.450, -19.03), (-2.372, -19.09),
    (-2.362, -19.04), (-2.583, -19.14), (-2.577, -19.20), (-2.241, -19.26), (-2.318, -19.32), (-2.254, -19.40),
    (-2.108, -19.36), (-2.028, -19.40), (-1.961, -19.32), (-2.210, -19.54), (-2.230, -19.64), (-2.166, -19.64),
    (-2.122, -19.58), (-2.100, -19.61), (-2.080, -19.59), (-2.050, -19.62), (-2.024, -19.60), (-2.259, -19.72),
    (-2.269, -19.78), (-2.279, -19.76), (-2.210, -19.73), (-2.200, -19.75), (-2.127, -19.76), (-2.175, -19.92),
    (-2.064, -19.92), (-2.316, -19.75), (-2.300, -19.80), (-2.290, -19.86), (-2.310, -19.88), (-2.280, -19.84),
    (-1.525, -17.10), (-1.513, -17.32), (-1.682, -17.38), (-1.666, -17.60), (-1.642, -17.78), (-1.537, -17.68),
    (-1.423, -17.63), (-1.421, -17.71), (-1.250, -17.03), (-1.227, -17.08), (-1.115, -17.12), (-0.953, -17.27),
    (-0.558, -17.52), (-1.954, -18.19), (-1.868, -18.25), (-1.788, -18.52), (-1.752, -18.69), (-1.635, -18.33),
    (-1.609, -18.54), (-1.571, -18.52), (-1.565, -18.63), (-1.499, -18.25), (-1.378, -18.28), (-1.407, -18.64),
    (-1.343, -18.10), (-1.461, -18.75), (-1.483, -18.85), (-1.562, -18.81), (-1.539, -18.86), (-1.360, -18.86),
    (-1.337, -18.75), (-1.253, -18.65), (-1.216, -18.62), (-1.222, -18.82), (-1.180, -18.78), (-1.203, -19.04),
    (-1.149, -18.98), (-1.055, -18.11), (-1.020, -18.04), (-0.981, -18.06), (-0.922, -18.57), (-0.857, -18.78),
    (-0.863, -18.30), (-1.714, -19.05), (-1.590, -19.12), (-1.579, -19.22), (-1.539, -19.18), (-1.539, -19.35),
    (-1.625, -19.25), (-1.472, -19.18), (-1.483, -19.26), (-1.385, -19.29), (-1.362, -19.14), (-1.666, -19.33),
    (-1.790, -19.38), (-1.775, -19.36), (-1.800, -19.41), (-1.760, -19.40), (-1.921, -19.28), (-1.952, -19.33),
    (-1.891, -19.52), (-1.794, -19.54), (-1.732, -19.53), (-1.827, -19.82), (-1.651, -19.73), (-1.711, -19.05),
    (-1.898, -19.18), (-1.880, -19.04), (-1.944, -18.90), (-1.898, -18.78), (-2.106, -19.36), (-2.027, -19.40),
    (-2.212, -19.54), (-2.223, -19.62), (-2.238, -19.26), (-2.250, -19.40), (-2.317, -19.32), (-2.370, -19.05),
    (-2.341, -18.78), (-2.204, -18.96), (-2.066, -19.92), (-2.159, -20.04), (-2.050, -20.33), (-2.332, -20.45),
    (-2.279, -20.69), (-2.291, -20.76), (-2.299, -20.95), (-1.825, -19.83), (-1.704, -17.86), (-1.610, -17.35),
    (-1.321, -17.65), (-1.348, -18.02), (-1.438, -18.13), (-1.494, -18.57), (-1.404, -18.61), (-1.188, -18.71),
    (-1.155, -18.87), (-1.255, -18.82), (-1.215, -18.50), (-1.028, -18.23), (-0.855, -17.73), (-0.862, -18.77),
    (-2.51, -19.75), (-2.48, -19.80), (-2.51, -19.88), (-2.55, -19.92), (-2.53, -19.85), (-2.50, -19.98),
    (-2.44, -19.95), (-2.42, -19.90), (-2.40, -19.98), (-2.38, -20.05), (-2.41, -20.12), (-2.44, -20.14),
    (-2.47, -20.08), (-2.49, -20.04), (-2.53, -20.07), (-2.56, -20.10), (-2.58, -20.03), (-2.60, -19.96),
    (-2.46, -19.70), (-2.43, -19.75), (-2.39, -19.82), (-2.36, -19.87), (-2.35, -19.95), (-2.33, -20.02),
    (-2.34, -20.10), (-2.30, -20.17), (-2.28, -20.14), (-2.26, -20.18), (-2.32, -20.24), (-2.23, -19.95),
    (-2.24, -20.05), (-2.22, -20.10), (-2.16, -20.03), (-2.62, -20.15), (-2.59, -20.22), (-2.57, -20.28),
    (-2.55, -20.33), (-2.53, -20.30), (-2.50, -20.26), (-2.46, -20.30), (-2.44, -20.35), (-2.47, -20.40),
    (-2.63, -20.42), (-2.61, -20.48), (-2.59, -20.45), (-2.52, -20.50), (-2.49, -20.55), (-2.47, -20.47),
    (-2.40, -20.42), (-2.33, -20.45), (-2.30, -20.34), (-2.28, -20.26), (-2.21, -20.26), (-2.66, -20.32),
    (-2.68, -20.20), (-2.72, -20.10), (-2.69, -19.92), (-2.74, -20.05), (-2.71, -19.85), (-2.64, -19.80),
    (-2.62, -19.72), (-2.59, -19.66), (-2.56, -19.60), (-2.53, -19.55), (-2.47, -19.58), (-2.44, -19.63),
    (-2.41, -19.55), (-2.38, -19.62), (-2.35, -19.70), (-2.31, -19.62), (-2.33, -19.55), (-2.28, -19.48),
    (-2.40, -19.45), (-2.45, -19.38), (-2.52, -19.43), (-2.60, -19.30), (-2.66, -19.48), (-2.70, -19.60),
    (-2.76, -19.72), (-2.80, -19.95), (-2.78, -20.20), (-2.75, -20.30), (-2.70, -20.40), (-2.66, -20.58),
    (-2.58, -20.65), (-2.53, -20.62), (-2.45, -20.68), (-2.38, -20.60), (-2.35, -20.78), (-2.57, -20.80),
    (-2.43, -20.82), (-2.48, -20.88), (-2.62, -20.90), (-2.52, -20.98), (-2.577, -21.14), (-2.46, -21.25),
    (-2.30, -20.95), (-2.054, -20.33), (-2.62, -21.05), (-2.52, -21.30), (-2.56, -20.72), (-2.40, -20.72),
    (-2.817, -18.99), (-2.79, -19.55),
]

# black widow and redback binaries
black_widow = [
    (-2.437, -18.20), (-2.489, -18.53), (-2.637, -18.67), (-2.459, -18.86), (-2.583, -19.14), (-2.577, -19.50),
    (-2.662, -19.69), (-2.625, -19.62), (-2.593, -19.69), (-2.792, -19.78), (-2.445, -19.72), (-2.510, -19.92),
    (-2.342, -19.92), (-2.660, -20.03), (-2.660, -20.20), (-2.669, -20.55), (-2.635, -20.64), (-2.577, -20.59),
    (-2.474, -20.66), (-2.705, -20.05), (-2.600, -19.57), (-2.520, -19.87),
]
redback = [
    (-2.437, -18.79), (-2.581, -19.50), (-2.494, -19.39), (-2.401, -19.58), (-2.329, -19.54), (-2.694, -19.86),
    (-2.773, -19.97), (-2.537, -19.86), (-2.413, -19.95), (-2.728, -20.14), (-2.773, -20.19), (-1.868, -18.25),
]

age_years = [1e3, 1e6, 1e9]
age_labels = [r'10$^{3}$ yrs', r'10$^{6}$ yrs', r'10$^{9}$ yrs']
field_gauss = [1e9, 1e12, 1e15]
field_labels = [r'10$^{9}$G', r'10$^{12}$G', r'10$^{15}$G']
field_label_pos = [(-0.136, -20.59), (-2.664, -12.07), (0.336, -9.26)]
age_label_pos = [(-1.892, -12.03), (-1.892, -15.03), (-1.892, -18.04)]
deathline_slope, deathline_icpt = 2.25, -16.56

xticks = [-2, -1, 0, 1]
yticks = [-20, -18, -16, -14, -12, -10]

# ------------------------------------------------------------------ figure
W, H = 1779, 1611
FS = 31.5
RED = '#fb3636'
GREEN = '#00cd00'
BLUE = '#0000ff'
GREY = '#b4b4b4'

fig = plt.figure(figsize=(W / 100, H / 100), dpi=100)
fig.patch.set_facecolor('white')
fig.add_artist(Rectangle((0, 0), 22 / W, 1, transform=fig.transFigure, color='#021631', zorder=0))
fig.add_artist(Rectangle((0, 1 - 6 / H), 1, 6 / H, transform=fig.transFigure, color='#021631', zorder=0))

ax = fig.add_axes([252 / W, (H - 1398) / H, (1794 - 252) / W, (1398 - 20) / H])
ax.set_xlim(-2.977, 1.542)
ax.set_ylim(-21.732, -8.792)

normal_P = [p for p, _ in normal_sparse]
normal_Pd = [d for _, d in normal_sparse]
for rows in (core_upper, core_middle, core_lower, core_fill):
    for yv, xs in rows:
        normal_P.extend(xs)
        normal_Pd.extend([yv] * len(xs))

ax.plot(normal_P, normal_Pd, 'o', ms=7.6, mew=0, color='black', zorder=2)
ax.plot([p for p, _ in msp_points], [d for _, d in msp_points], 'o', ms=7.2, mew=0, color=GREY, zorder=2)
ax.plot([p for p, _ in black_widow], [d for _, d in black_widow], 'o', ms=21.5, mfc='none',
        mec=GREEN, mew=1.5, zorder=3)
ax.plot([p for p, _ in redback], [d for _, d in redback], 'o', ms=21.5, mfc='none',
        mec=BLUE, mew=1.5, zorder=3)

xx = np.array([-3.2, 1.8])
SEC_PER_YEAR = 3.156e7
for tau in age_years:
    ax.plot(xx, xx - np.log10(2 * tau * SEC_PER_YEAR), color='black', lw=1.8, zorder=4)
for B in field_gauss:
    ax.plot(xx, 2 * np.log10(B) - 2 * np.log10(3.2e19) - xx, color='black', lw=2.1,
            ls=(0, (0.6, 4.2)), dash_capstyle='round', zorder=4)
ax.plot(xx, deathline_slope * xx + deathline_icpt, color='black', lw=3.0,
        ls=(0, (5.0, 5.5)), zorder=4)

for (px, py), lab in zip(age_label_pos, age_labels):
    ax.text(px, py, lab, fontsize=FS, ha='left', va='center', zorder=5)
for (px, py), lab in zip(field_label_pos, field_labels):
    ax.text(px, py, lab, fontsize=FS, ha='left', va='center', zorder=5)

ax.set_xticks(xticks)
ax.set_yticks(yticks)
ax.set_xticklabels([str(v) for v in xticks])
ax.set_yticklabels([str(v) for v in yticks])
ax.tick_params(direction='in', length=20, width=1.1, labelsize=FS, top=False, right=False)
ax.tick_params(axis='x', pad=47)
ax.tick_params(axis='y', pad=40)
plt.setp(ax.get_yticklabels(), rotation=90, va='center')
for sp in ax.spines.values():
    sp.set_linewidth(1.8)

ax.set_xlabel(r'log$_{10}$P   (s)', fontsize=FS, va='center')
ax.xaxis.set_label_coords(0.5, -0.13)
ax.set_ylabel(r'log$_{10}$dP/dt    (s/s)', fontsize=FS, va='center', ha='center')
ax.yaxis.set_label_coords(-0.125, 0.5)

handles = [Line2D([], [], marker='o', ls='none', mfc='none', mec=GREEN, ms=15, mew=1.3),
           Line2D([], [], marker='o', ls='none', mfc='none', mec=BLUE, ms=15, mew=1.3)]
leg = ax.legend(handles, ['Black Widow', 'Redback'], loc='upper left',
                bbox_to_anchor=(0.061, 0.9456), borderaxespad=0, fontsize=FS,
                borderpad=0.72, handlelength=0.42, handleheight=1.35, handletextpad=0.73,
                labelspacing=0.1, fancybox=False, framealpha=1, edgecolor='black')
leg.get_frame().set_linewidth(1.5)
leg.set_zorder(6)

# ------------------------------------------------------------------ annotations (figure pixels)
def fx(x):
    return x / W

def fy(y):
    return 1 - y / H

fig.add_artist(Ellipse((fx(521), fy(1129)), 580 / W, 580 / H, transform=fig.transFigure,
                       fill=False, edgecolor=RED, lw=2.5, zorder=8))

fig.add_artist(Rectangle((fx(885), fy(463)), 840 / W, 93 / H, transform=fig.transFigure,
                         facecolor='white', edgecolor='black', lw=2.3, zorder=9))
fig.text(fx(1305), fy(440), 'Dipolar rotation spin-down', ha='center', va='baseline',
         fontsize=51, family=['Liberation Serif', 'DejaVu Serif'], zorder=10)
fig.add_artist(Rectangle((fx(983), fy(1038)), 742 / W, 81 / H, transform=fig.transFigure,
                         facecolor='white', edgecolor='black', lw=2.3, zorder=9))
fig.text(fx(1353.5), fy(1021), 'Accretion powered spin-up', ha='center', va='baseline',
         fontsize=45, family=['Liberation Serif', 'DejaVu Serif'], zorder=10)

def arrow(start, tip, arm1, arm2, lw=18.5):
    sx, sy = start
    tx, ty = tip
    dx, dy = tx - sx, ty - sy
    L = np.hypot(dx, dy)
    ex, ey = tx - dx / L * 10, ty - dy / L * 10
    fig.add_artist(Line2D([fx(sx), fx(ex)], [fy(sy), fy(ey)], transform=fig.transFigure,
                          color=RED, lw=lw, solid_capstyle='butt', zorder=11))
    fig.add_artist(Line2D([fx(arm1[0]), fx(tx), fx(arm2[0])], [fy(arm1[1]), fy(ty), fy(arm2[1])],
                          transform=fig.transFigure, color=RED, lw=lw,
                          solid_capstyle='round', solid_joinstyle='miter', zorder=11))

arrow((700, 316), (1233, 724), (1208, 652), (1150, 714))
arrow((1236, 739), (819, 1041), (848, 975), (895, 1042))

fig.savefig('out.png', dpi=100, facecolor=fig.get_facecolor())
